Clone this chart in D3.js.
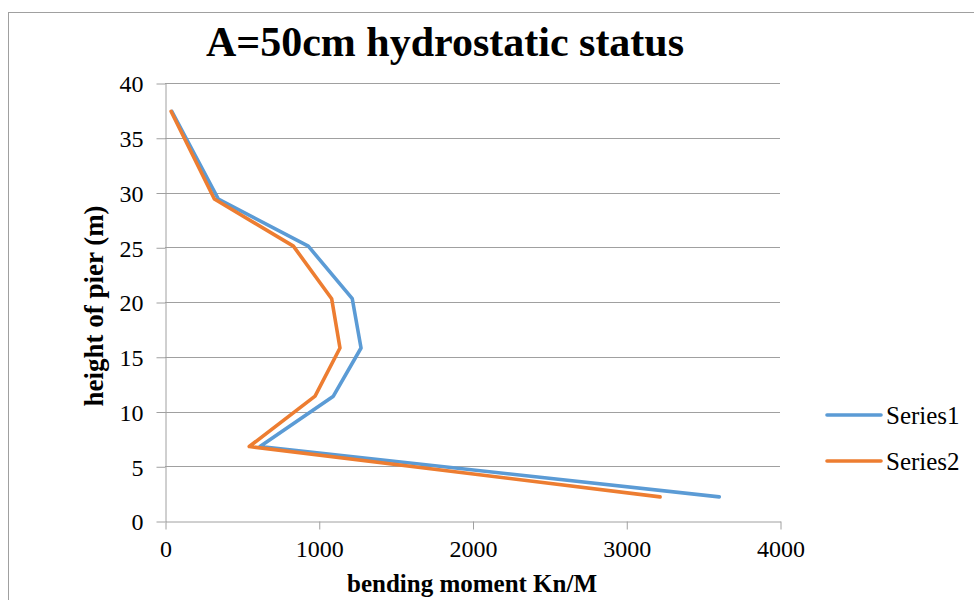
<!DOCTYPE html>
<html>
<head>
<meta charset="utf-8">
<script src="https://cdn.jsdelivr.net/npm/d3@7"></script>
<style>
  body { margin: 0; background: #fff; }
  svg text { font-family: "Liberation Serif", "Times New Roman", serif; }
</style>
</head>
<body>
<div id="container"></div>
<script>
// pier heights (m) at each section
const heights = [37.4, 29.4, 25.1, 20.3, 15.8, 11.4, 6.8, 2.2];
// bending moments
const series1 = [45, 347, 932, 1218, 1275, 1095, 618, 3605];
const series2 = [40, 321, 835, 1084, 1138, 976, 548, 3220];
const seriesNames = ["Series1", "Series2"];
const colors = ["#5b9bd5", "#ed7d31"];
const xTicks = [0, 1000, 2000, 3000, 4000];
const yTicks = [0, 5, 10, 15, 20, 25, 30, 35, 40];

const serif = "'Liberation Serif', 'Times New Roman', serif";
const width = 974, height = 600;
const plot = { left: 165, right: 780, top: 83, bottom: 521 };

const svg = d3.select("#container")
  .append("svg")
  .attr("width", width)
  .attr("height", height);

// chart frame
svg.append("rect")
  .attr("x", 8.5).attr("y", 12.5)
  .attr("width", 980).attr("height", 600)
  .attr("fill", "none")
  .attr("stroke", "#a0a0a0");

let x = d3.scaleLinear().domain([0, 4000]).range([plot.left, plot.right]);
let y = d3.scaleLinear().domain([0, 40]).range([plot.bottom, plot.top]);

// gridlines
svg.append("g")
  .selectAll("line")
  .data(yTicks.filter(d => d > 0))
  .join("line")
  .attr("x1", plot.left).attr("x2", plot.right)
  .attr("y1", d => Math.round(y(d)) + 0.5).attr("y2", d => Math.round(y(d)) + 0.5)
  .attr("stroke", "#a0a0a0")
  .attr("stroke-width", 1);

// y axis
const yAxis = svg.append("g")
  .attr("transform", "translate(" + (plot.left + 0.5) + ",0.5)")
  .call(d3.axisLeft(y).tickValues(yTicks).tickSize(9).tickPadding(13).tickSizeOuter(0));

// x axis
const xAxis = svg.append("g")
  .attr("transform", "translate(0.5," + (Math.round(plot.bottom) + 0.5) + ")")
  .call(d3.axisBottom(x).tickValues(xTicks).tickSize(8).tickPadding(10).tickSizeOuter(0).tickFormat(d3.format("d")));

[yAxis, xAxis].forEach(a => {
  a.attr("font-family", serif);
  a.selectAll("path, line").attr("stroke", "#a0a0a0");
  a.selectAll("text")
    .attr("fill", "#000")
    .style("font-family", serif)
    .style("font-size", "24px");
});
yAxis.selectAll("text").attr("dy", "0.35em");

// series lines
const data = [series1, series2];
const line = d3.line()
  .x(d => x(d.m))
  .y(d => y(d.h));

data.forEach((s, i) => {
  svg.append("path")
    .datum(s.map((m, j) => ({ m: m, h: heights[j] })))
    .attr("fill", "none")
    .attr("stroke", colors[i])
    .attr("stroke-width", 3.6)
    .attr("stroke-linejoin", "round")
    .attr("stroke-linecap", "round")
    .attr("d", line);
});

// title
svg.append("text")
  .attr("x", 445).attr("y", 56)
  .attr("text-anchor", "middle")
  .style("font-family", serif)
  .style("font-size", "42px")
  .style("font-weight", "bold")
  .text("A=50cm hydrostatic status");

// axis titles
svg.append("text")
  .attr("x", 472).attr("y", 592)
  .attr("text-anchor", "middle")
  .style("font-family", serif)
  .style("font-size", "25px")
  .style("font-weight", "bold")
  .text("bending moment Kn/M");

svg.append("text")
  .attr("transform", "translate(103,306) rotate(-90)")
  .attr("text-anchor", "middle")
  .style("font-family", serif)
  .style("font-size", "27px")
  .style("font-weight", "bold")
  .text("height of pier (m)");

// legend
const legend = svg.append("g")
  .selectAll("g")
  .data(seriesNames)
  .join("g")
  .attr("transform", (d, i) => "translate(827," + (415 + i * 46) + ")");

legend.append("line")
  .attr("x1", 0).attr("x2", 54)
  .attr("stroke", (d, i) => colors[i])
  .attr("stroke-width", 3.6)
  .attr("stroke-linecap", "round");

legend.append("text")
  .attr("x", 59).attr("dy", "0.35em")
  .style("font-family", serif)
  .style("font-size", "25px")
  .text(d => d);
</script>
</body>
</html>
